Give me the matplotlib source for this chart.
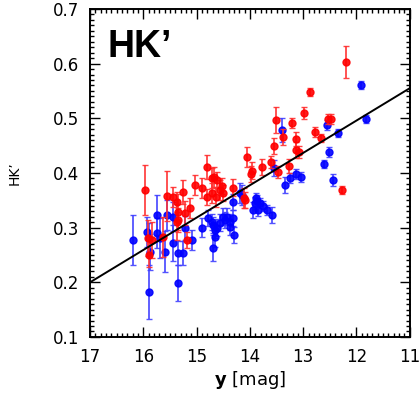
import matplotlib
matplotlib.use("Agg")
import matplotlib.pyplot as plt
from matplotlib.ticker import MultipleLocator, FormatStrFormatter

# red sample: y magnitude, HK', error
red_mag = [12.20, 12.88, 13.51, 12.99, 13.21, 12.54, 12.48, 13.38, 12.78, 12.67,
           13.14, 13.55, 13.14, 13.08, 14.06, 13.61, 13.96, 13.98, 13.77, 13.27,
           13.47, 12.27, 14.81, 14.67, 14.71, 14.62, 14.90, 14.56, 14.51, 14.52,
           14.32, 15.26, 14.81, 15.37, 15.44, 15.12, 15.22, 15.35, 14.11, 15.97,
           15.56, 15.18, 15.63, 15.91, 15.84, 15.35, 15.37, 14.71, 14.64, 14.09,
           15.03, 15.89]
red_hk = [0.603, 0.548, 0.497, 0.510, 0.491, 0.499, 0.499, 0.466, 0.475, 0.464,
          0.462, 0.449, 0.442, 0.438, 0.429, 0.420, 0.404, 0.398, 0.411, 0.413,
          0.402, 0.369, 0.411, 0.393, 0.391, 0.387, 0.373, 0.369, 0.363, 0.376,
          0.373, 0.365, 0.356, 0.347, 0.356, 0.336, 0.327, 0.314, 0.354, 0.369,
          0.358, 0.277, 0.283, 0.281, 0.277, 0.329, 0.310, 0.363, 0.356, 0.351,
          0.378, 0.250]
red_err = [0.029, 0.007, 0.024, 0.011, 0.009, 0.009, 0.009, 0.015, 0.009, 0.007,
           0.013, 0.015, 0.015, 0.011, 0.018, 0.011, 0.016, 0.015, 0.015, 0.013,
           0.011, 0.007, 0.022, 0.018, 0.018, 0.015, 0.018, 0.018, 0.015, 0.015,
           0.015, 0.022, 0.015, 0.018, 0.018, 0.018, 0.022, 0.022, 0.018, 0.046,
           0.046, 0.015, 0.037, 0.033, 0.033, 0.033, 0.033, 0.018, 0.018, 0.015,
           0.018, 0.022]

# blue sample
blue_mag = [11.92, 11.83, 12.35, 12.56, 12.52, 12.61, 12.44, 13.40, 13.55, 13.34,
            13.25, 13.14, 13.04, 13.89, 13.91, 13.87, 13.81, 13.76, 13.94, 13.85,
            13.68, 13.59, 14.19, 15.44, 15.22, 14.79, 14.71, 14.69, 14.62, 14.66,
            14.51, 14.47, 14.37, 14.32, 14.37, 14.90, 15.44, 15.35, 15.26, 15.35,
            15.09, 14.69, 14.66, 14.30, 16.19, 15.93, 15.89, 15.74, 15.69, 15.89,
            15.74, 15.59, 15.87, 14.15, 14.32, 14.43, 14.56, 15.56]
blue_hk = [0.561, 0.499, 0.473, 0.488, 0.438, 0.416, 0.387, 0.479, 0.409, 0.378,
           0.391, 0.398, 0.393, 0.354, 0.345, 0.349, 0.345, 0.340, 0.332, 0.332,
           0.332, 0.323, 0.363, 0.320, 0.300, 0.318, 0.310, 0.305, 0.300, 0.296,
           0.320, 0.314, 0.310, 0.318, 0.301, 0.300, 0.272, 0.254, 0.254, 0.199,
           0.277, 0.263, 0.283, 0.287, 0.277, 0.292, 0.281, 0.290, 0.281, 0.182,
           0.323, 0.256, 0.256, 0.360, 0.347, 0.320, 0.309, 0.323]
blue_err = [0.007, 0.007, 0.007, 0.009, 0.009, 0.007, 0.011, 0.022, 0.015, 0.015,
            0.009, 0.009, 0.009, 0.009, 0.011, 0.011, 0.009, 0.009, 0.015, 0.011,
            0.009, 0.015, 0.018, 0.027, 0.022, 0.015, 0.015, 0.015, 0.015, 0.015,
            0.015, 0.015, 0.015, 0.015, 0.015, 0.018, 0.033, 0.022, 0.022, 0.033,
            0.018, 0.024, 0.018, 0.015, 0.046, 0.027, 0.027, 0.027, 0.037, 0.049,
            0.037, 0.037, 0.033, 0.018, 0.015, 0.015, 0.015, 0.027]

# linear fit endpoints
fit_mag = [17, 11]
fit_hk = [0.200, 0.555]

fig = plt.figure(figsize=(4.19, 4.05), dpi=100)
ax = fig.add_axes([0.215, 0.168, 0.763, 0.81])

ax.errorbar(blue_mag, blue_hk, yerr=blue_err, fmt="o", color="#0000ff", ms=5,
            ecolor="#4040ff", elinewidth=1.3, capsize=2, capthick=1, alpha=0.9, zorder=2)
ax.errorbar(red_mag, red_hk, yerr=red_err, fmt="o", color="#ff0000", ms=5,
            ecolor="#ff3030", elinewidth=1.3, capsize=2, capthick=1, alpha=0.9, zorder=3)
ax.plot(fit_mag, fit_hk, color="black", lw=1.4, zorder=4)

ax.set_xlim(17, 11)
ax.set_ylim(0.1, 0.7)
ax.xaxis.set_major_locator(MultipleLocator(1))
ax.xaxis.set_minor_locator(MultipleLocator(0.1))
ax.xaxis.set_major_formatter(FormatStrFormatter("%d"))
ax.yaxis.set_major_locator(MultipleLocator(0.1))
ax.yaxis.set_minor_locator(MultipleLocator(0.01))
ax.yaxis.set_major_formatter(FormatStrFormatter("%.1f"))
ax.tick_params(which="both", direction="in", top=True, right=True, width=1)
ax.tick_params(which="major", length=7, labelsize=12, pad=8)
ax.tick_params(which="minor", length=3)
for s in ax.spines.values():
    s.set_linewidth(1.4)

ax.set_xlabel(r"$\mathit{\mathbf{y}}$ [mag]", fontsize=13, labelpad=2)
ax.set_ylabel("HK’", fontsize=10, labelpad=22)
ax.text(0.055, 0.885, "HK’", transform=ax.transAxes, fontsize=27,
        fontweight="bold", family="Liberation Sans", va="center", ha="left")

fig.savefig("out.png", dpi=100)
